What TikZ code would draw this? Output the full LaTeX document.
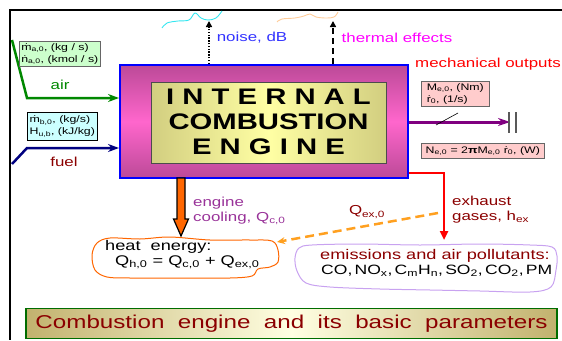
\documentclass[tikz,border=0pt]{standalone}
\usepackage{fontspec}
\setmainfont{Liberation Sans}[FakeStretch=1.3]
\usetikzlibrary{arrows.meta,calc}
\definecolor{airgreen}{HTML}{008800}
\definecolor{fuelnavy}{HTML}{000080}
\definecolor{noiseblue}{HTML}{3333FF}
\definecolor{thermmag}{HTML}{FF00FF}
\definecolor{coolpurple}{HTML}{993399}
\definecolor{dred}{HTML}{8B0000}
\definecolor{shaftpurple}{HTML}{800080}
\definecolor{heatorange}{HTML}{FF6600}
\definecolor{dashorange}{HTML}{FFA020}
\definecolor{emislav}{HTML}{C8A2F0}
\definecolor{boxgreen}{HTML}{CCFFCC}
\definecolor{boxcyan}{HTML}{CCFFFF}
\definecolor{boxpink}{HTML}{FFCCCC}
\definecolor{engdark}{HTML}{BC4A98}
\definecolor{engbright}{HTML}{FF66CC}
\definecolor{innerdark}{HTML}{D2CE80}
\definecolor{innerlight}{HTML}{FFFFA4}
\definecolor{titledark}{HTML}{C2B26E}
\definecolor{titlelight}{HTML}{FFFFE2}
\definecolor{wavecyan}{HTML}{33E6F0}
\definecolor{waveorange}{HTML}{FFCC99}
\begin{document}
\begin{tikzpicture}[x=1pt,y=-1pt,
  lbl/.style={font=\fontsize{13}{15}\selectfont, inner sep=0pt},
  small/.style={font=\fontsize{9.5}{12}\selectfont, align=left, inner sep=2pt, draw=black!60, line width=0.6pt, anchor=north west},
  engtxt/.style={font=\fontsize{22.5}{24}\selectfont\bfseries, inner sep=0pt},
  flow/.style={line width=2.5pt},
]
\useasboundingbox (0,0) rectangle (562,340);
% frame
\draw[line width=2pt] (562,10) -- (10,10) -- (10,340);
% engine
\node[draw=blue, line width=2pt, minimum width=288pt, minimum height=113pt,
  top color=engdark, bottom color=engdark, middle color=engbright] (eng) at (264,121.5) {};
\node[draw=black!70, line width=0.8pt, minimum width=235pt, minimum height=81pt,
  left color=innerdark, right color=innerdark, middle color=innerlight] (inner) at (268.5,122.5) {};
\node[engtxt] (t1) at (268.5,97) {I N T E R N A L};
\node[engtxt] (t2) at (268.5,122) {COMBUSTION};
\node[engtxt] (t3) at (268.5,147) {E N G I N E};
% top outputs
\coordinate (nz) at (209,21);
\coordinate (th) at (333,21);
\draw[line width=2.5pt, dash pattern=on 1.5pt off 1.3pt, -{Triangle[length=6pt,width=6pt]}] (eng.north -| nz) -- (nz);
\draw[line width=2.5pt, dash pattern=on 6pt off 4pt, -{Triangle[length=6pt,width=6pt]}] (eng.north -| th) -- (th);
\draw[wavecyan, line width=0.9pt] plot[smooth, tension=0.6] coordinates {(162,28) (167,23) (178,21) (189,20) (195,13) (201,18) (208,20) (216,18) (222,11)};
\draw[waveorange, line width=0.9pt] plot[smooth, tension=0.6] coordinates {(277,22) (282,19) (295,18) (304,16) (310,14) (316,17) (326,18) (334,17) (338,12)};
\node[lbl, text=noiseblue] (noise) at (252,38) {noise, dB};
\node[lbl, text=thermmag] (therm) at (397,38) {thermal effects};
\node[lbl, text=red] (mech) at (488,64) {mechanical outputs};
% air
\coordinate (a0) at (12,40);
\coordinate (a1) at (27,98);
\draw[flow, airgreen, -{Stealth[length=11pt,width=8pt]}] (a0) -- (a1) -- (a1 -| eng.west);
\node[small, fill=boxgreen, minimum width=81pt, minimum height=25pt] (airbox) at (19,41) {ṁ\textsubscript{a,0}, (kg / s)\\ṅ\textsubscript{a,0}, (kmol / s)};
\node[lbl, text=airgreen] (airt) at (60,85) {air};
% fuel
\coordinate (f0) at (12,164);
\coordinate (f1) at (27,148);
\draw[flow, fuelnavy, -{Stealth[length=11pt,width=8pt]}] (f0) -- (f1) -- (f1 -| eng.west);
\node[small, fill=boxcyan, draw=black, minimum width=70pt, minimum height=28pt] (fuelbox) at (27,112) {ṁ\textsubscript{b,0}, (kg/s)\\H\textsubscript{u,b}, (kJ/kg)};
\node[lbl, text=dred] (fuelt) at (64,162) {fuel};
% mechanical output
\coordinate (sh) at (510,122);
\draw[flow, shaftpurple, line width=3pt, -{Stealth[length=12pt,width=8pt]}] (eng.east |- sh) -- (sh);
\coordinate (b1) at (509,112);
\coordinate (b2) at (516,112);
\draw[black!65, line width=1.2pt] (b1) -- ++(0,21);
\draw[black!65, line width=1.2pt] (b2) -- ++(0,21);
\coordinate (sl0) at (436,125);
\coordinate (sl1) at (458,113);
\draw[line width=0.6pt] (sl0) -- (sl1);
\node[small, fill=boxpink, minimum width=68pt, minimum height=24pt] (mbox) at (421,81) {M\textsubscript{e,0}, (Nm)\\ṙ\textsubscript{0}, (1/s)};
\node[small, fill=boxpink, minimum width=123pt, minimum height=15pt] (nbox) at (421,143) {N\textsubscript{e,0} = 2\textbf{π}M\textsubscript{e,0} ṙ\textsubscript{0}, (W)};
% heat cloud
\draw[heatorange, line width=1pt] plot[smooth cycle, tension=0.55] coordinates {(92,255) (97,243) (110,238) (140,239) (170,237) (210,240) (250,240) (272,241) (278,250) (278,262) (270,267) (258,269) (252,276) (230,278) (180,278) (130,278) (107,277) (95,270)};
\node[lbl, font=\fontsize{14}{16}\selectfont, anchor=west] (h1) at (105,247) {heat\ \ energy:};
\node[lbl, font=\fontsize{14}{16}\selectfont, anchor=west] (h2) at (115,262) {Q\textsubscript{h,0} = Q\textsubscript{c,0} + Q\textsubscript{ex,0}};
% cooling arrow
\coordinate (c0) at (181,178);
\coordinate (c1) at (181,236);
\draw[fill=heatorange, line width=1.2pt, line join=miter]
  ($(c0)+(-4,0)$) -- ($(c1)+(-4,-17)$) -- ($(c1)+(-7.5,-17)$) -- (c1) -- ($(c1)+(7.5,-17)$) -- ($(c1)+(4,-17)$) -- ($(c0)+(4,0)$) -- cycle;
\node[lbl, text=coolpurple, anchor=west, align=left] (cool) at (193,211) {engine\\cooling, Q\textsubscript{c,0}};
% exhaust
\coordinate (ex1) at (444,173);
\coordinate (ex2) at (444,240);
\draw[flow, red, -{Triangle[length=9pt,width=8pt]}] (eng.east |- ex1) -- (ex1) -- (ex2);
\node[lbl, text=dred, anchor=west, align=left] (exht) at (452,210) {exhaust\\gases, h\textsubscript{ex}};
% dashed heat of exhaust
\coordinate (q0) at (438,213);
\coordinate (q1) at (277,242);
\draw[dashorange, line width=2.5pt, dash pattern=on 9pt off 5pt, -{Stealth[length=8pt,width=7pt]}] (q0) -- (q1);
\node[lbl, text=dred] (qex) at (367,212) {Q\textsubscript{ex,0}};
% emissions cloud
\draw[emislav, line width=1pt] plot[smooth cycle, tension=0.55] coordinates {(295,258) (299,248) (312,245) (360,244) (420,245) (480,244) (530,245) (552,247) (557,256) (556,270) (551,287) (530,292) (480,291) (430,290) (380,289) (330,287) (306,283) (297,271)};
\node[lbl, font=\fontsize{14}{16}\selectfont, text=dred, anchor=west] (em1) at (320,256) {emissions and air pollutants:};
\node[lbl, font=\fontsize{13.5}{16}\selectfont, anchor=west] (em2) at (321,271) {CO,\,NO\textsubscript{x},\,C\textsubscript{m}H\textsubscript{n},\,SO\textsubscript{2},\,CO\textsubscript{2},\,PM};
% title
\node[draw=airgreen!80!black, line width=1.2pt, minimum width=531pt, minimum height=30pt,
  left color=titledark, right color=titledark, middle color=titlelight,
  font=\fontsize{18.6}{20}\selectfont, text=dred] (title) at (291.5,323.5) {Combustion\ \ engine\ \ and\ \ its\ \ basic\ \ parameters};
\end{tikzpicture}
\end{document}
